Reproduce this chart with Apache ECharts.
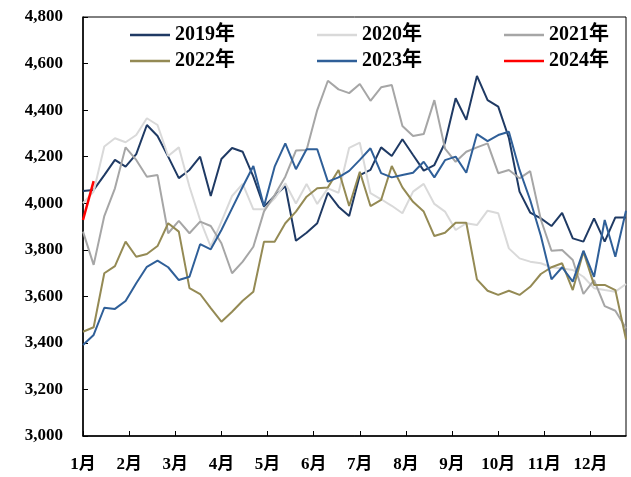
<!DOCTYPE html>
<html>
<head>
<meta charset="utf-8">
<script src="https://cdn.jsdelivr.net/npm/echarts@6/dist/echarts.min.js"></script>
<style>
  html, body { margin: 0; padding: 0; background: #fff; }
  #chart { width: 631px; height: 477px; }
</style>
</head>
<body>
<div id="chart"></div>
<script>
// weekly values, 52 weeks per year
const monthLabels = ['1月', '2月', '3月', '4月', '5月', '6月', '7月', '8月', '9月', '10月', '11月', '12月']
const yearNames = ['2019年', '2020年', '2021年', '2022年', '2023年', '2024年']
const yearColors = ['#1F3A64', '#D9D9D9', '#A6A6A6', '#948A54', '#2F5F98', '#FF0000']

const v2019 = [4052, 4057, 4121, 4186, 4157, 4211, 4336, 4289, 4200, 4108, 4143, 4200, 4031, 4190, 4237, 4221,
  4114, 3985, 4031, 4074, 3839, 3873, 3914, 4045, 3985, 3945, 4121, 4143, 4240, 4203, 4275, 4207,
  4140, 4164, 4260, 4451, 4358, 4547, 4443, 4415, 4280, 4050, 3960, 3935, 3902, 3959, 3849, 3835,
  3935, 3835, 3939, 3939]
const v2020 = [4000, 4050, 4244, 4279, 4262, 4293, 4365, 4336, 4203, 4240, 4071, 3928, 3813, 3921, 4031, 4083,
  3974, 3974, 4021, 4086, 3999, 4083, 3997, 4064, 4045, 4238, 4260, 4043, 4017, 3989, 3957, 4050,
  4083, 3997, 3964, 3885, 3914, 3906, 3968, 3957, 3806, 3763, 3749, 3742, 3725, 3720, 3713, 3684,
  3635, 3627, 3620, 3653]
const v2021 = [3878, 3735, 3945, 4064, 4240, 4186, 4114, 4121, 3871, 3924, 3871, 3921, 3902, 3828, 3699, 3749,
  3813, 3965, 4035, 4114, 4226, 4229, 4400, 4526, 4489, 4473, 4512, 4440, 4498, 4508, 4332, 4289,
  4297, 4443, 4235, 4178, 4221, 4240, 4257, 4129, 4143, 4107, 4138, 3930, 3796, 3799, 3756, 3610,
  3670, 3558, 3538, 3463]
const v2022 = [3448, 3467, 3699, 3730, 3835, 3770, 3782, 3816, 3914, 3878, 3635, 3610, 3549, 3491, 3534, 3581,
  3620, 3835, 3835, 3914, 3964, 4028, 4064, 4068, 4143, 3988, 4135, 3988, 4014, 4160, 4068, 4006,
  3964, 3859, 3873, 3916, 3916, 3673, 3624, 3606, 3624, 3606, 3641, 3696, 3725, 3742, 3627, 3792,
  3649, 3649, 3627, 3415]
const v2023 = [3391, 3434, 3551, 3546, 3580, 3656, 3727, 3753, 3725, 3670, 3684, 3824, 3802, 3885, 3978, 4071,
  4160, 3987, 4157, 4257, 4146, 4232, 4232, 4093, 4111, 4139, 4186, 4236, 4129, 4111, 4121, 4131,
  4178, 4111, 4185, 4200, 4131, 4297, 4267, 4293, 4307, 4143, 4014, 3860, 3673, 3725, 3663, 3796,
  3684, 3928, 3770, 3968]
const v2024 = [3928, 4095]

const yearValues = [v2019, v2020, v2021, v2022, v2023, v2024]
const weeksPerMonth = 52 / 12

const font = '"Liberation Serif", "Noto Sans CJK SC", serif'

const myChart = echarts.init(document.getElementById('chart'))

const series = yearNames.map((name, k) => {
  return {
    name: name,
    type: 'line',
    showSymbol: false,
    symbol: 'none',
    data: yearValues[k].map((v, i) => [i, v]),
    lineStyle: {
      width: k === 5 ? 2.5 : 2,
      color: yearColors[k]
    },
    itemStyle: { color: yearColors[k] },
    z: 2 + k
  }
})

const legendBase = {
  icon: 'rect',
  itemWidth: 40,
  itemHeight: 2.5,
  itemGap: 82,
  left: 130,
  padding: 0,
  textStyle: {
    fontFamily: font,
    fontWeight: 'bold',
    fontSize: 20,
    color: '#000'
  }
}

const option = {
  animation: false,
  backgroundColor: '#fff',
  grid: {
    left: 83,
    right: 5,
    top: 17,
    bottom: 41,
    show: true,
    borderColor: '#000',
    borderWidth: 1
  },
  legend: [
    Object.assign({}, legendBase, { top: 25, data: yearNames.slice(0, 3) }),
    Object.assign({}, legendBase, { top: 51, data: yearNames.slice(3, 6) })
  ],
  xAxis: {
    type: 'value',
    min: 0,
    max: 51,
    interval: weeksPerMonth,
    axisLine: { lineStyle: { color: '#000', width: 1.5 } },
    axisTick: { inside: true, length: 5, lineStyle: { color: '#000' } },
    splitLine: { show: false },
    axisLabel: {
      showMaxLabel: false,
      margin: 20,
      fontFamily: font,
      fontWeight: 'bold',
      fontSize: 17,
      color: '#000',
      formatter(val) {
        const m = val / weeksPerMonth
        if (Math.abs(m - Math.round(m)) > 0.01) return ''
        return monthLabels[Math.round(m)] || ''
      }
    }
  },
  yAxis: {
    type: 'value',
    min: 3000,
    max: 4800,
    interval: 200,
    axisLine: { show: true, lineStyle: { color: '#000', width: 1.5 } },
    axisTick: { show: true, inside: true, length: 5, lineStyle: { color: '#000' } },
    splitLine: { show: false },
    axisLabel: {
      margin: 20,
      fontFamily: font,
      fontWeight: 'bold',
      fontSize: 17,
      color: '#000',
      formatter(val) {
        return val.toLocaleString('en-US')
      }
    }
  },
  series: series
}

myChart.setOption(option)
</script>
</body>
</html>
